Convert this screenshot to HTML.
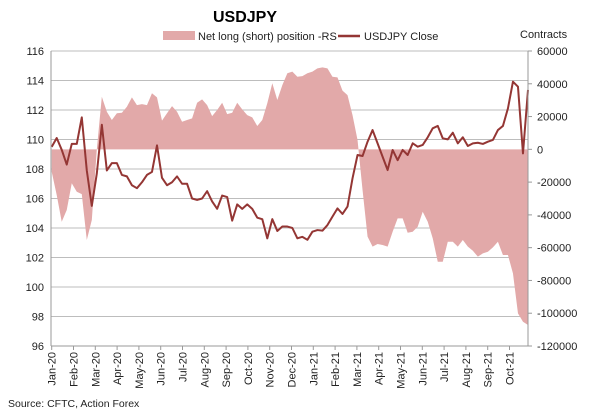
<!DOCTYPE html>
<html><head><meta charset="utf-8"><style>
body{margin:0;background:#fff;}
svg{display:block;font-family:"Liberation Sans",Arial,sans-serif;}
</style></head><body>
<svg id="chart" width="600" height="416" viewBox="0 0 600 416">
<text x="245" y="22" font-size="16" font-weight="bold" text-anchor="middle" fill="#000">USDJPY</text>
<g>
<rect x="163" y="31" width="32" height="9" fill="#e2a9a9"/>
<text x="198" y="40" font-size="11" fill="#222">Net long (short) position -RS</text>
<line x1="338" y1="36" x2="360" y2="36" stroke="#943634" stroke-width="2.5"/>
<text x="364" y="40" font-size="11" fill="#222">USDJPY Close</text>
</g>
<text x="520" y="38" font-size="11" fill="#222">Contracts</text>
<g id="grid"></g>
<g id="area"></g>
<g id="line"></g>
<g id="axes"></g>
<text x="8" y="407" font-size="10.5" fill="#222">Source: CFTC, Action Forex</text>
</svg>
<script>
const months = ["Jan-20","Feb-20","Mar-20","Apr-20","May-20","Jun-20","Jul-20","Aug-20","Sep-20","Oct-20","Nov-20","Dec-20","Jan-21","Feb-21","Mar-21","Apr-21","May-21","Jun-21","Jul-21","Aug-21","Sep-21","Oct-21"];
const leftTicks = [96,98,100,102,104,106,108,110,112,114,116];
const rightTicks = [-120000,-100000,-80000,-60000,-40000,-20000,0,20000,40000,60000];
const closeValues = [109.5,110.1,109.3,108.3,109.7,109.7,111.5,107.9,105.5,107.7,111.0,107.9,108.4,108.4,107.6,107.5,106.9,106.7,107.1,107.6,107.8,109.6,107.4,106.9,107.1,107.5,107.0,107.0,106.0,105.9,106.0,106.5,105.8,105.3,106.2,106.1,104.5,105.6,105.3,105.6,105.3,104.7,104.6,103.3,104.6,103.8,104.1,104.1,104.0,103.3,103.4,
103.2,103.75,103.86,103.82,104.2,104.77,105.33,104.95,105.45,107.37,108.95,108.88,109.85,110.64,109.74,108.83,107.93,109.29,108.6,109.29,108.95,109.74,109.51,109.63,110.15,110.76,110.92,110.08,110.01,110.46,109.74,110.15,109.56,109.74,109.78,109.7,109.85,109.97,110.64,110.92,112.11,113.92,113.58,109.06,113.36];
const netPosition = [-13700,-27900,-44200,-37000,-20700,-25900,-27300,-55300,-43100,0,32100,22900,17900,22000,22300,26000,31700,27000,27600,27000,34200,31700,17500,22000,26400,22900,16800,17900,18900,28400,30500,27000,20300,24000,28400,21500,22300,28400,24400,20900,19500,14200,17900,28100,40300,30100,39200,46400,47400,44300,44700,
46400,47400,49400,50000,49400,44300,43900,35800,33100,20900,5700,-24800,-53300,-59400,-57800,-58400,-59400,-50300,-42100,-42100,-50900,-50300,-47200,-38100,-44200,-54300,-68600,-68600,-56400,-56400,-59400,-55300,-59400,-61900,-65500,-63500,-62500,-59800,-56400,-64500,-64500,-75700,-100100,-105200,-107200];

const NS="http://www.w3.org/2000/svg";
const X0=51.7, X1=528, Y0=51, Y1=346, PL=51;
const xIdx=i=>X0+(X1-X0)*i/(closeValues.length-1);
const yL=v=>Y0+(116-v)/(116-96)*(Y1-Y0);
const yR=v=>Y0+(60000-v)/180000*(Y1-Y0);
function mk(tag,attrs,parent){const e=document.createElementNS(NS,tag);for(const k in attrs)e.setAttribute(k,attrs[k]);parent.appendChild(e);return e;}
const grid=document.getElementById('grid'),axes=document.getElementById('axes');
leftTicks.forEach(v=>{
  const l=mk('line',{x1:PL,x2:X1,y1:yL(v),y2:yL(v),stroke:'#bdbdbd','stroke-width':1},grid);
  
  
  const t=mk('text',{x:44,y:yL(v)+4,'font-size':11,'text-anchor':'end',fill:'#222'},axes);
  t.textContent=v;
  
  
});
rightTicks.forEach(v=>{
  const t=mk('text',{x:537,y:yR(v)+4,'font-size':11,fill:'#222'},axes);
  t.textContent=v;
  
  
  mk('line',{x1:X1,x2:X1+4,y1:yR(v),y2:yR(v),stroke:'#999'},axes);
});
mk('line',{x1:PL,x2:PL,y1:Y0,y2:Y1,stroke:'#999'},axes);
mk('line',{x1:X1,x2:X1,y1:Y0,y2:Y1,stroke:'#999'},axes);
mk('line',{x1:PL,x2:X1,y1:Y1,y2:Y1,stroke:'#999'},axes);
const mStep=21.8;
months.forEach((m,i)=>{
  const x=PL+0.7+i*mStep;
  mk('line',{x1:x,x2:x,y1:Y1,y2:Y1+4,stroke:'#999'},axes);
  const t=mk('text',{x:0,y:0,'font-size':11,'text-anchor':'end',fill:'#222',transform:`translate(${x+4},352) rotate(-90)`},axes);
  t.textContent=m;
  
  
});
let d=`M${xIdx(0)},${yR(0)}`;
netPosition.forEach((v,i)=>{d+=` L${xIdx(i)},${yR(v)}`;});
d+=` L${xIdx(netPosition.length-1)},${yR(0)} Z`;
const a=mk('path',{d:d,fill:'#e2a9a9'},document.getElementById('area'));


const pts=closeValues.map((v,i)=>`${xIdx(i)},${yL(v)}`).join(' ');
const p=mk('polyline',{points:pts,fill:'none',stroke:'#943634','stroke-width':2,'stroke-linejoin':'round'},document.getElementById('line'));


</script>
</body></html>
